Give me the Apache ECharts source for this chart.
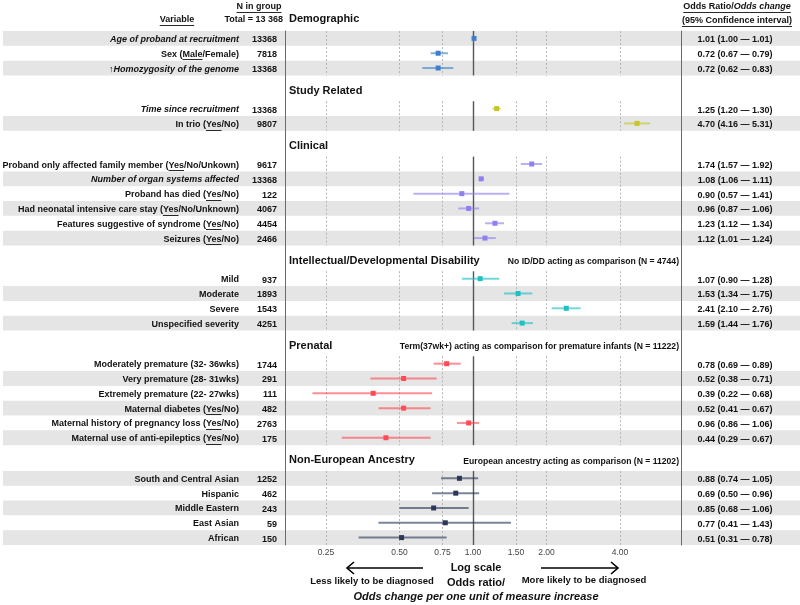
<!DOCTYPE html>
<html><head><meta charset="utf-8">
<script src="https://cdn.jsdelivr.net/npm/echarts@6/dist/echarts.min.js"></script>
<style>html,body{margin:0;padding:0;background:#fff}#c{width:800px;height:605px}</style>
</head><body><div id="c"></div>
<script>
// ---------------- data ----------------
const sectionNames = ['Demographic', 'Study Related', 'Clinical', 'Intellectual/Developmental Disability', 'Prenatal', 'Non-European Ancestry'];
const sectionNotes = ['', '', '', 'No ID/DD acting as comparison (N = 4744)', 'Term(37wk+) acting as comparison for premature infants (N = 11222)', 'European ancestry acting as comparison (N = 11202)'];
const sectionColors = ['#3f7fcc', '#c6c62a', '#8f80f0', '#1fc0c0', '#ff4b55', '#2b3858'];

const demographicLabels = ['*Age of proband at recruitment*', 'Sex (_Male_/Female)', '↑*Homozygosity of the genome*'];
const demographicN = [13368, 7818, 13368];
const demographicOR = [1.01, 0.72, 0.72];
const demographicLow = [1.00, 0.67, 0.62];
const demographicHigh = [1.01, 0.79, 0.83];

const studyLabels = ['*Time since recruitment*', 'In trio (_Yes_/No)'];
const studyN = [13368, 9807];
const studyOR = [1.25, 4.70];
const studyLow = [1.20, 4.16];
const studyHigh = [1.30, 5.31];

const clinicalLabels = ['Proband only affected family member (_Yes_/No/Unkown)', '*Number of organ systems affected*', 'Proband has died (_Yes_/No)', 'Had neonatal intensive care stay (_Yes_/No/Unknown)', 'Features suggestive of syndrome (_Yes_/No)', 'Seizures (_Yes_/No)'];
const clinicalN = [9617, 13368, 122, 4067, 4454, 2466];
const clinicalOR = [1.74, 1.08, 0.90, 0.96, 1.23, 1.12];
const clinicalLow = [1.57, 1.06, 0.57, 0.87, 1.12, 1.01];
const clinicalHigh = [1.92, 1.11, 1.41, 1.06, 1.34, 1.24];

const iddLabels = ['Mild', 'Moderate', 'Severe', 'Unspecified severity'];
const iddN = [937, 1893, 1543, 4251];
const iddOR = [1.07, 1.53, 2.41, 1.59];
const iddLow = [0.90, 1.34, 2.10, 1.44];
const iddHigh = [1.28, 1.75, 2.76, 1.76];

const prenatalLabels = ['Moderately premature (32- 36wks)', 'Very premature (28- 31wks)', 'Extremely premature (22- 27wks)', 'Maternal diabetes (_Yes_/No)', 'Maternal history of pregnancy loss (_Yes_/No)', 'Maternal use of anti-epileptics (_Yes_/No)'];
const prenatalN = [1744, 291, 111, 482, 2763, 175];
const prenatalOR = [0.78, 0.52, 0.39, 0.52, 0.96, 0.44];
const prenatalLow = [0.69, 0.38, 0.22, 0.41, 0.86, 0.29];
const prenatalHigh = [0.89, 0.71, 0.68, 0.67, 1.06, 0.67];

const ancestryLabels = ['South and Central Asian', 'Hispanic', 'Middle Eastern', 'East Asian', 'African'];
const ancestryN = [1252, 462, 243, 59, 150];
// printed in the right-hand column
const ancestryOR = [0.88, 0.69, 0.85, 0.77, 0.51];
const ancestryLow = [0.74, 0.50, 0.68, 0.41, 0.31];
const ancestryHigh = [1.05, 0.96, 1.06, 1.43, 0.78];
// markers as drawn in the plot panel
const ancestryPlotOR = [0.88, 0.85, 0.69, 0.77, 0.51];
const ancestryPlotLow = [0.74, 0.68, 0.50, 0.41, 0.34];
const ancestryPlotHigh = [1.05, 1.06, 0.96, 1.43, 0.78];

const tickValues = [0.25, 0.50, 0.75, 1.00, 1.50, 2.00, 4.00];

// ---------------- layout helpers ----------------
const FONT = '"Liberation Sans", Arial, Helvetica, sans-serif';
const TXT = '#111111';
const SECTION_GAP = 1.74;      // extra row units between sections
const HEADER_OFFSET = 1.22;    // header sits this many row units above first row

const sections = [
  {labels: demographicLabels, n: demographicN, or: demographicOR, low: demographicLow, high: demographicHigh},
  {labels: studyLabels, n: studyN, or: studyOR, low: studyLow, high: studyHigh},
  {labels: clinicalLabels, n: clinicalN, or: clinicalOR, low: clinicalLow, high: clinicalHigh},
  {labels: iddLabels, n: iddN, or: iddOR, low: iddLow, high: iddHigh},
  {labels: prenatalLabels, n: prenatalN, or: prenatalOR, low: prenatalLow, high: prenatalHigh},
  {labels: ancestryLabels, n: ancestryN, or: ancestryOR, low: ancestryLow, high: ancestryHigh,
   pOr: ancestryPlotOR, pLow: ancestryPlotLow, pHigh: ancestryPlotHigh}
];

const rows = [];
const secInfo = [];
let g = 0;
sections.forEach((s, k) => {
  const first = g + k * SECTION_GAP;
  s.labels.forEach((lab, i) => {
    const pos = g + k * SECTION_GAP;
    rows.push({
      sec: k, pos: pos, label: lab, n: s.n[i],
      text: s.or[i].toFixed(2) + ' (' + s.low[i].toFixed(2) + ' \u2014 ' + s.high[i].toFixed(2) + ')',
      or: (s.pOr || s.or)[i], low: (s.pLow || s.low)[i], high: (s.pHigh || s.high)[i],
      shade: (s.labels.length - 1 - i) % 2 === 0
    });
    g++;
  });
  const last = (g - 1) + k * SECTION_GAP;
  secInfo.push({k: k, first: first, last: last, header: first - (k === 0 ? 1.3 : HEADER_OFFSET)});
});
const YMAX = rows[rows.length - 1].pos + 0.5;

const ctx = document.createElement('canvas').getContext('2d');
function cssFont(italic, bold, size) {
  return (italic ? 'italic ' : 'normal ') + (bold ? 'bold ' : 'normal ') + size + 'px ' + FONT;
}
function parseMarkup(s) {
  const segs = []; let it = false, un = false, buf = '';
  for (const ch of s) {
    if (ch === '*' || ch === '_') {
      if (buf) segs.push({t: buf, i: it, u: un});
      buf = '';
      if (ch === '*') it = !it; else un = !un;
    } else buf += ch;
  }
  if (buf) segs.push({t: buf, i: it, u: un});
  return segs;
}
function richText(str, x, y, align, size, bold, color) {
  const segs = parseMarkup(str);
  const widths = segs.map(sg => { ctx.font = cssFont(sg.i, bold, size); return ctx.measureText(sg.t).width; });
  const total = widths.reduce((a, b) => a + b, 0);
  let cx = align === 'right' ? x - total : (align === 'center' ? x - total / 2 : x);
  const out = [];
  segs.forEach((sg, k) => {
    out.push({type: 'text', x: cx, y: y, silent: true, style: {
      text: sg.t, fontFamily: FONT, fontSize: size, fontWeight: bold ? 'bold' : 'normal',
      fontStyle: sg.i ? 'italic' : 'normal', fill: color, align: 'left', verticalAlign: 'middle'}});
    if (sg.u) {
      const uy = Math.round(y + size * 0.58) + 0.5;
      out.push({type: 'line', silent: true, shape: {x1: cx, y1: uy, x2: cx + widths[k], y2: uy},
        style: {stroke: color, lineWidth: 0.9}});
    }
    cx += widths[k];
  });
  return out;
}

// ---------------- static graphics ----------------
const staticEls = [].concat(
  richText('_N in group_', 259, 7, 'center', 9, true, TXT),
  richText('_Variable_', 177, 19.5, 'center', 9, true, TXT),
  richText('Total = 13 368', 283, 19.5, 'right', 9, true, TXT),
  richText('_Odds Ratio/*Odds change*_', 737, 7, 'center', 9, true, TXT),
  richText('_(95% Confidence interval)_', 737, 20.5, 'center', 9, true, TXT),
  richText('Log scale', 476, 568, 'center', 11, true, TXT),
  richText('Odds ratio/', 476, 583, 'center', 11, true, TXT),
  richText('*Odds change per one unit of measure increase*', 476, 597, 'center', 11, true, TXT),
  richText('Less likely to be diagnosed', 372, 581, 'center', 9.5, true, TXT),
  richText('More likely to be diagnosed', 584, 580, 'center', 9.5, true, TXT),
  [
    {type: 'line', silent: true, shape: {x1: 347, y1: 568, x2: 423, y2: 568}, style: {stroke: '#000', lineWidth: 1.6}},
    {type: 'polyline', silent: true, shape: {points: [[354, 562], [347, 568], [354, 574]]}, style: {stroke: '#000', lineWidth: 1.6, fill: null}},
    {type: 'line', silent: true, shape: {x1: 541, y1: 568, x2: 618, y2: 568}, style: {stroke: '#000', lineWidth: 1.6}},
    {type: 'polyline', silent: true, shape: {points: [[611, 562], [618, 568], [611, 574]]}, style: {stroke: '#000', lineWidth: 1.6, fill: null}}
  ]
);

// ---------------- chart ----------------
const XMIN = -1.773, XMAX = 1.962;
const chart = echarts.init(document.getElementById('c'), null, {renderer: 'canvas'});
const yAxisBase = {
  type: 'value', inverse: true, min: -0.5, max: YMAX, z: 6,
  axisLine: {show: true, onZero: false, lineStyle: {color: '#6a6a6a', width: 1}},
  axisTick: {show: false}, axisLabel: {show: false}, splitLine: {show: false}
};
const option = {
  animation: false,
  backgroundColor: '#ffffff',
  grid: {left: 285, right: 119, top: 31, bottom: 60, containLabel: false},
  xAxis: {
    type: 'value', min: XMIN, max: XMAX,
    axisLine: {show: false}, axisTick: {show: false}, splitLine: {show: false},
    axisLabel: {
      customValues: tickValues.map(v => Math.log(v)),
      formatter: v => Math.exp(v).toFixed(2),
      color: '#444444', fontSize: 8.5, fontFamily: FONT, margin: 3
    }
  },
  yAxis: [Object.assign({}, yAxisBase, {position: 'left'}), Object.assign({}, yAxisBase, {position: 'right'})],
  graphic: {elements: staticEls},
  series: [
    { // row shading
      type: 'custom', z: 1, clip: false, silent: true,
      data: rows.map(r => [0, r.pos, r.shade ? 1 : 0]),
      renderItem: (params, api) => {
        if (!api.value(2)) return null;
        const y0 = api.coord([0, api.value(1) - 0.5])[1];
        const y1 = api.coord([0, api.value(1) + 0.5])[1];
        return {type: 'rect', shape: {x: 3, y: y0, width: 797, height: y1 - y0}, style: {fill: '#e5e5e5'}};
      }
    },
    { // vertical reference lines per section
      type: 'custom', z: 2, clip: false, silent: true,
      data: secInfo.map(s => [0, s.first, s.last]),
      renderItem: (params, api) => {
        const y0 = api.coord([0, api.value(1) - 0.5])[1];
        const y1 = api.coord([0, api.value(2) + 0.5])[1];
        const ch = tickValues.map(t => {
          const x = Math.round(api.coord([Math.log(t), 0])[0]) + 0.5;
          const solid = t === 1;
          return {type: 'line', shape: {x1: x, y1: y0, x2: x, y2: y1},
            style: solid ? {stroke: '#555', lineWidth: 1.4} : {stroke: '#b5b5b5', lineWidth: 1, lineDash: [2, 2]}};
        });
        return {type: 'group', children: ch};
      }
    },
    { // confidence intervals and point estimates
      type: 'custom', z: 3, clip: false, silent: true,
      data: rows.map(r => [Math.log(r.or), r.pos, Math.log(r.low), Math.log(r.high), r.sec]),
      renderItem: (params, api) => {
        const y = api.value(1);
        const p = api.coord([api.value(0), y]);
        const lo = api.coord([api.value(2), y]);
        const hi = api.coord([api.value(3), y]);
        const col = sectionColors[api.value(4)];
        return {type: 'group', children: [
          {type: 'line', shape: {x1: lo[0], y1: p[1], x2: hi[0], y2: p[1]}, style: {stroke: col, lineWidth: 2, opacity: 0.62}},
          {type: 'rect', shape: {x: p[0] - 2.5, y: p[1] - 2.5, width: 5, height: 5}, style: {fill: col}}
        ]};
      }
    },
    { // table text
      type: 'custom', z: 4, clip: false, silent: true,
      data: rows.map(r => [0, r.pos]),
      renderItem: (params, api) => {
        const r = rows[params.dataIndex];
        const y = api.coord([0, api.value(1)])[1] + 1;
        return {type: 'group', children: [].concat(
          richText(r.label, 239, y, 'right', 9, true, TXT),
          richText(String(r.n), 277, y + 0.5, 'right', 9, true, TXT),
          richText(r.text, 735, y + 0.5, 'center', 9, true, TXT)
        )};
      }
    },
    { // section headers
      type: 'custom', z: 4, clip: false, silent: true,
      data: secInfo.map(s => [0, s.header]),
      renderItem: (params, api) => {
        const k = params.dataIndex;
        const y = api.coord([0, api.value(1)])[1];
        let ch = richText(sectionNames[k], 289, y, 'left', 11, true, TXT);
        if (sectionNotes[k]) ch = ch.concat(richText(sectionNotes[k], 679, y + 1.5, 'right', 8.6, true, TXT));
        return {type: 'group', children: ch};
      }
    }
  ]
};
chart.setOption(option);
</script>
</body></html>
